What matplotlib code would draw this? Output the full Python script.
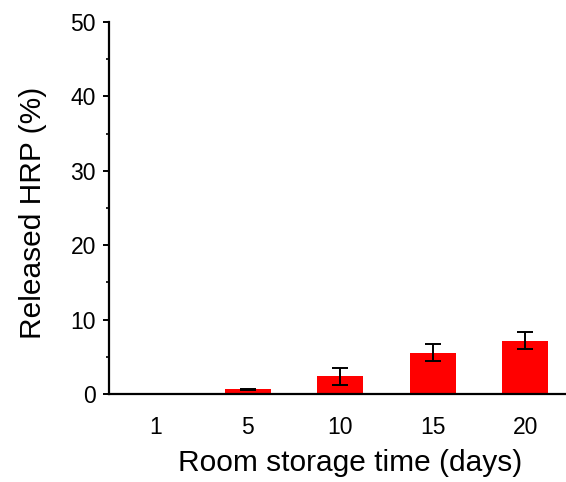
import numpy as np
import matplotlib.pyplot as plt
from matplotlib.ticker import MultipleLocator

plt.rcParams['font.family'] = ['Liberation Sans', 'DejaVu Sans']

days = ['1', '5', '10', '15', '20']
released = [0.0, 0.65, 2.35, 5.55, 7.15]
errors = [0.0, 0.08, 1.15, 1.1, 1.15]

fig = plt.figure(figsize=(5.66, 4.82), dpi=100)
ax = fig.add_axes([0.1926, 0.1826, 0.8074, 0.772])

x = np.arange(len(days))
ax.bar(x, released, width=0.5, color='#ff0000', yerr=errors,
       error_kw=dict(ecolor='black', elinewidth=1.4, capsize=6, capthick=1.4))

ax.set_xlim(-0.5, 4.44)
ax.set_ylim(0, 50)
ax.set_xticks(x)
ax.set_xticklabels(days)
ax.yaxis.set_major_locator(MultipleLocator(10))
ax.yaxis.set_minor_locator(MultipleLocator(5))

for side in ['top', 'right']:
    ax.spines[side].set_visible(False)
for side in ['left', 'bottom']:
    ax.spines[side].set_linewidth(1.6)

ax.tick_params(axis='y', which='major', length=4.5, width=1.4, labelsize=16.5, pad=5)
ax.tick_params(axis='y', which='minor', length=2.5, width=1.2)
ax.tick_params(axis='x', length=0, labelsize=16.5, pad=16)

ax.set_xlabel('Room storage time (days)', fontsize=21.5)
ax.set_ylabel('Released HRP (%)', fontsize=21.5)
ax.xaxis.set_label_coords(0.527, -0.148)
ax.yaxis.set_label_coords(-0.136, 0.487)

plt.savefig('out.png', dpi=100)
